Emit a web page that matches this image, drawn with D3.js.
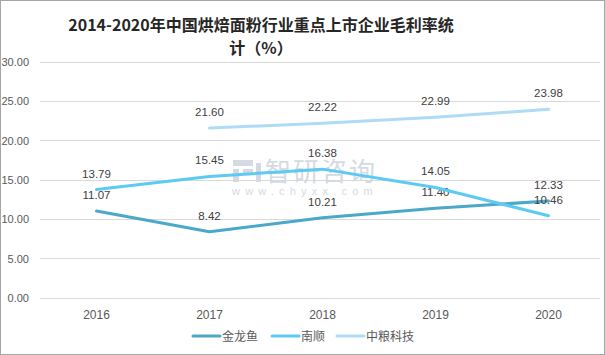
<!DOCTYPE html>
<html><head><meta charset="utf-8">
<script src="https://cdn.jsdelivr.net/npm/d3@7"></script>
<style>body{margin:0;background:#fff}svg{display:block}</style>
</head><body>
<script>
const years = ["2016","2017","2018","2019","2020"];
const seriesNames = ["金龙鱼","南顺","中粮科技"];
const jinlongyu = [11.07, 8.42, 10.21, 11.40, 12.33];
const nanshun = [13.79, 15.45, 16.38, 14.05, 10.46];
const zhongliang = [null, 21.60, 22.22, 22.99, 23.98];
const yTicks = [0, 5, 10, 15, 20, 25, 30];
const colors = ["#4aa8c9", "#5ccaf3", "#aedcf6"];
const titleLines = ["2014-2020年中国烘焙面粉行业重点上市企业毛利率统", "计（%）"];

const W = 605, H = 355;
const svg = d3.select("body").append("svg").attr("width", W).attr("height", H);
svg.append("rect").attr("x",0.5).attr("y",0.5).attr("width",W-1).attr("height",H-1)
  .attr("fill","#fff").attr("stroke","#a6a6a6");

const x = d3.scaleBand().domain(years).range([40, 605]);
const y = d3.scaleLinear().domain([0, 30]).range([298, 62]);
const font = "'Noto Sans CJK SC', 'Noto Sans', sans-serif";
const numFont = "'Liberation Sans', Arial, sans-serif";

// title
svg.append("g").selectAll("text").data(titleLines).join("text")
  .attr("x", 261).attr("y", (d,i)=> 31 + i*23)
  .attr("text-anchor","middle").attr("font-family", font)
  .attr("font-weight","bold").attr("font-size", 16).attr("fill","#262626")
  .text(d=>d);

// grid
svg.append("g").selectAll("line").data(yTicks).join("line")
  .attr("x1", 40).attr("x2", 600).attr("y1", d=>y(d)).attr("y2", d=>y(d))
  .attr("stroke","#d9d9d9").attr("stroke-width",1).attr("shape-rendering","crispEdges");

// y axis
const yAxis = svg.append("g").attr("transform","translate(29,0)")
  .call(d3.axisLeft(y).tickValues(yTicks).tickFormat(d3.format(".2f")).tickSize(0).tickPadding(0));
yAxis.select(".domain").remove();
yAxis.selectAll("text").attr("font-family",numFont).attr("font-size",11).attr("fill","#595959");

// x axis
const xAxis = svg.append("g").attr("transform","translate(0,298)")
  .call(d3.axisBottom(x).tickSize(0).tickPadding(12));
xAxis.select(".domain").remove();
xAxis.selectAll("text").attr("font-family",numFont).attr("font-size",12).attr("fill","#595959");

// watermark
const wm = svg.append("g").attr("fill","#d5dae2");
wm.append("rect").attr("x",233).attr("y",160).attr("width",20).attr("height",6);
wm.append("rect").attr("x",233).attr("y",169).attr("width",6).attr("height",13);
wm.append("rect").attr("x",243).attr("y",169).attr("width",10).attr("height",5);
wm.append("rect").attr("x",256).attr("y",163).attr("width",5).attr("height",19);
wm.append("text").attr("x",265).attr("y",181).attr("font-family",font).attr("font-size",26)
  .attr("letter-spacing",2).text("智研咨询");
wm.append("text").attr("x",232).attr("y",195).attr("font-family",numFont).attr("font-size",11)
  .attr("letter-spacing",5.2).text("www.chyxx.com");

// lines
const allSeries = [jinlongyu, nanshun, zhongliang];
const line = d3.line().defined(d=>d.v!=null).x(d=>x(d.k)+x.bandwidth()/2).y(d=>y(d.v));
allSeries.forEach((vals, si) => {
  const pts = years.map((k,i)=>({k, v: vals[i]}));
  svg.append("path").datum(pts).attr("d", line).attr("fill","none")
    .attr("stroke", colors[si]).attr("stroke-width", 3).attr("stroke-linecap","round").attr("stroke-linejoin","round");
  svg.append("g").selectAll("text").data(pts.filter(p=>p.v!=null)).join("text")
    .attr("x", d=>x(d.k)+x.bandwidth()/2).attr("y", d=>y(d.v)-12)
    .attr("text-anchor","middle").attr("font-family",numFont)
    .attr("font-size",11.5).attr("fill","#404040").text(d=>d3.format(".2f")(d.v));
});

// legend
const legX = [193, 272, 337];
const leg = svg.append("g").selectAll("g").data(seriesNames).join("g")
  .attr("transform",(d,i)=>`translate(${legX[i]},336)`);
leg.append("line").attr("x1",0).attr("x2",27).attr("y1",0).attr("y2",0)
  .attr("stroke",(d,i)=>colors[i]).attr("stroke-width",3).attr("stroke-linecap","round");
leg.append("text").attr("x",29).attr("y",4.5).attr("font-family",font).attr("font-size",12)
  .attr("fill","#595959").text(d=>d);
</script>
</body></html>
